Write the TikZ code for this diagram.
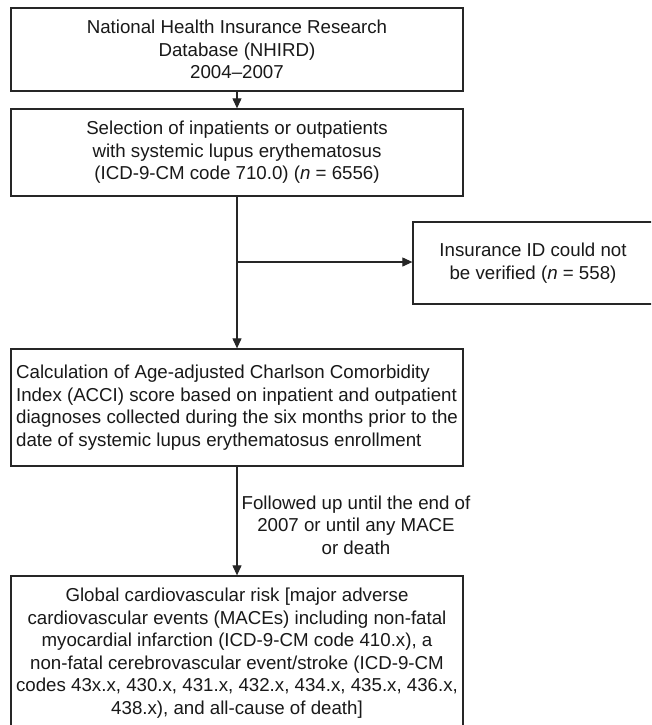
\documentclass[tikz,border=0pt]{standalone}
\usepackage{fontspec}
\setmainfont{Liberation Sans}
\usetikzlibrary{arrows.meta}
\begin{document}
\begin{tikzpicture}[x=1pt,y=-1pt,
  every node/.style={font=\fontsize{18.7}{22.5}\selectfont, text=black!90},
  flowbox/.style={draw=black!85, line width=1.3pt, inner sep=0pt, minimum width=452pt, align=center},
  flowarrow/.style={draw=black!85, line width=1.1pt, -{Triangle[length=10pt,width=9pt]}}
]
\useasboundingbox (0,0) rectangle (651,725);
\clip (0,0) rectangle (651,725);
\fill[white] (0,0) rectangle (651,725);

\node[flowbox, minimum height=83pt] (nhird) at (237,49.5)
  {National Health Insurance Research\\Database (NHIRD)\\2004–2007};
\node[flowbox, minimum height=87pt] (sel) at (237,152.5)
  {Selection of inpatients or outpatients\\with systemic lupus erythematosus\\(ICD-9-CM code 710.0) (\textit{n} = 6556)};
\node[flowbox, minimum width=240pt, minimum height=82pt] (ins) at (533,263)
  {Insurance ID could not\\be verified (\textit{n} = 558)};
\node[flowbox, minimum height=117pt, align=left] (acci) at (237,407.5)
  {Calculation of Age-adjusted Charlson Comorbidity\\Index (ACCI) score based on inpatient and outpatient\\diagnoses collected during the six months prior to the\\date of systemic lupus erythematosus enrollment};
\node[flowbox, minimum height=154pt] (glob) at (237,653)
  {Global cardiovascular risk [major adverse\\cardiovascular events (MACEs) including non-fatal\\myocardial infarction (ICD-9-CM code 410.x), a\\non-fatal cerebrovascular event/stroke (ICD-9-CM\\codes 43x.x, 430.x, 431.x, 432.x, 434.x, 435.x, 436.x,\\438.x), and all-cause of death]};

\node[align=center, inner sep=0pt] (follow) at (356,525)
  {Followed up until the end of\\2007 or until any MACE\\or death};

\draw[flowarrow] (nhird.south) -- (sel.north);
\draw[flowarrow] (sel.south) -- (acci.north);
\coordinate (br) at (237,262);
\draw[flowarrow] (br) -- (br -| ins.west);
\draw[flowarrow] (acci.south) -- (glob.north);
\end{tikzpicture}
\end{document}
